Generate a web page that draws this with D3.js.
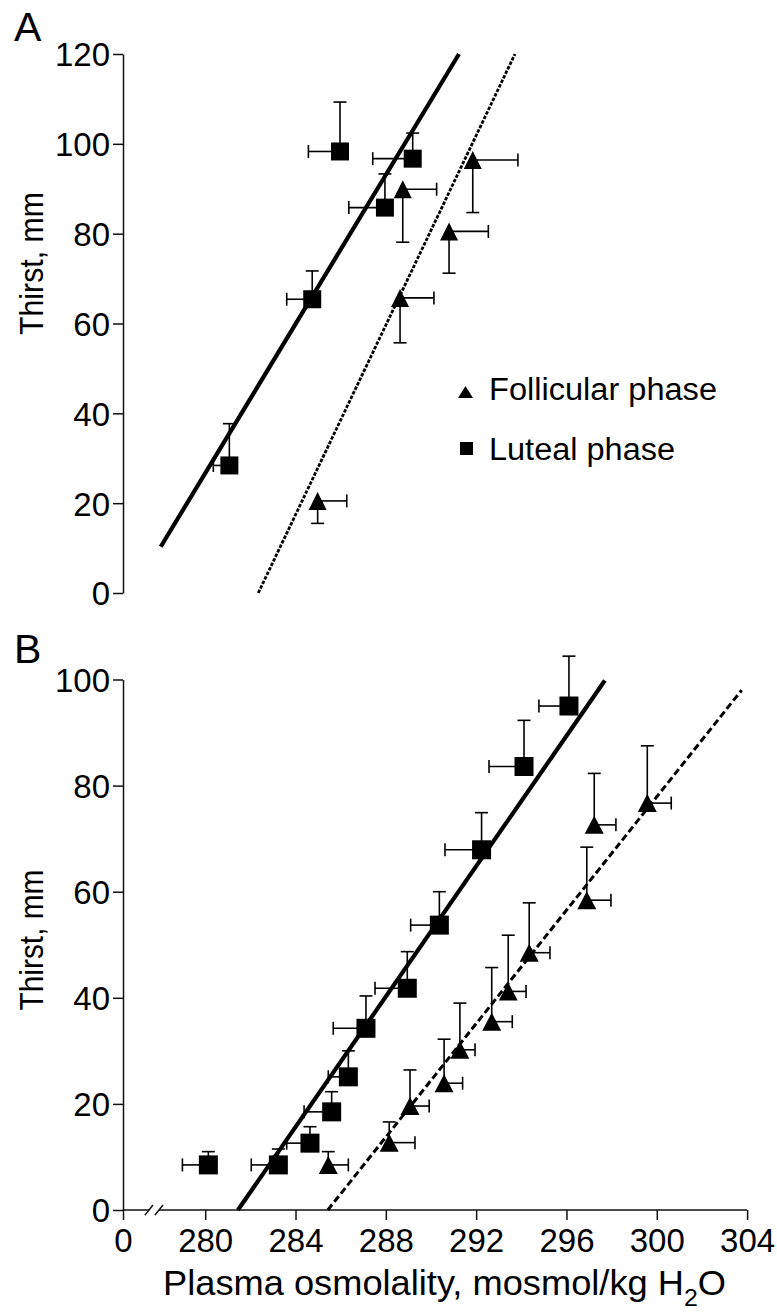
<!DOCTYPE html>
<html><head><meta charset="utf-8">
<script src="https://cdn.jsdelivr.net/npm/d3@7"></script>
<style>
html,body{margin:0;padding:0;background:#fff;}
svg text{font-family:"Liberation Sans",Arial,Helvetica,sans-serif;fill:#000;}
</style></head>
<body>
<svg id="chart" width="777" height="1314"></svg>
<script>
// ---------- DATA ----------
// Panel A
const lutealA_x    = [281.07, 284.74, 285.97, 287.96, 289.19];
const lutealA_y    = [28.4, 65.4, 98.3, 85.8, 96.7];
const lutealA_xerr = [0.71, 1.13, 1.40, 1.60, 1.77];
const lutealA_yerr = [9.3, 6.3, 11.0, 7.5, 5.7];

const follA_x    = [284.98, 288.63, 288.75, 290.80, 291.85];
const follA_y    = [20.5, 65.7, 89.9, 80.5, 96.4];
const follA_xerr = [1.29, 1.50, 1.50, 1.74, 2.00];
const follA_yerr = [5.0, 10.0, 11.8, 9.3, 11.7];

const lineA_luteal_x = [278.03, 291.24];
const lineA_luteal_y = [10.3, 120];
const lineA_foll_x   = [282.35, 293.72];
const lineA_foll_y   = [0, 120];

// Panel B
const lutealB_x    = [280.14, 283.24, 284.64, 285.60, 286.34, 287.12, 288.95, 290.37, 292.24, 294.12, 296.11];
const lutealB_y    = [8.5, 8.5, 12.6, 18.5, 25.1, 34.25, 41.8, 53.7, 67.9, 83.6, 95.0];
const lutealB_xerr = [1.15, 1.20, 1.03, 1.22, 0.89, 1.45, 1.43, 1.27, 1.62, 1.55, 1.33];
const lutealB_yerr = [2.5, 3.0, 3.1, 3.8, 4.9, 6.1, 6.9, 6.3, 7.0, 8.7, 9.4];

const follB_x    = [285.45, 288.15, 289.07, 290.58, 291.28, 292.69, 293.42, 294.35, 296.90, 297.23, 299.58];
const follB_y    = [8.5, 12.7, 19.6, 23.9, 30.2, 35.5, 41.2, 48.5, 58.4, 72.6, 76.7];
const follB_xerr = [0.89, 1.14, 0.85, 0.82, 0.67, 0.91, 0.79, 0.92, 1.07, 0.96, 1.06];
const follB_yerr = [2.5, 3.9, 6.8, 8.3, 8.8, 10.2, 10.6, 9.4, 10.0, 9.7, 10.8];

const lineB_luteal_x = [281.45, 297.70];
const lineB_luteal_y = [0, 99.8];
const lineB_foll_x   = [285.43, 303.76];
const lineB_foll_y   = [0, 98];

// Ticks
const yTicksA = [0, 20, 40, 60, 80, 100, 120];
const yTicksB = [0, 20, 40, 60, 80, 100];
const xZeroPos = 276.36;   // where the broken axis shows "0"
const xTickValues = [xZeroPos, 280, 284, 288, 292, 296, 300, 304];
const xTickLabels = ["0", "280", "284", "288", "292", "296", "300", "304"];

const legendLabels = ["Follicular phase", "Luteal phase"];

// ---------- DRAW ----------
const FONT = '"Liberation Sans",Arial,Helvetica,sans-serif';
const svg = d3.select("#chart");
const x = d3.scaleLinear().domain([280, 304]).range([205.2, 747.1]);
const yA = d3.scaleLinear().domain([0, 120]).range([593, 54]);
const yB = d3.scaleLinear().domain([0, 100]).range([1210, 679.5]);
const axisX = x(xZeroPos);

function yAxis(scale, ticks) {
  const g = svg.append("g").attr("transform", `translate(${axisX},0)`)
    .call(d3.axisLeft(scale).tickValues(ticks).tickSize(10).tickSizeOuter(0).tickPadding(3));
  g.select(".domain").attr("stroke", "#111").attr("stroke-width", 1.5);
  g.selectAll(".tick line").attr("stroke", "#111").attr("stroke-width", 1.5);
  g.selectAll(".tick text").attr("font-size", 33).attr("font-family", FONT).attr("fill", "#000")
    .attr("dy", "0.36em");
  return g;
}
yAxis(yA, yTicksA);
yAxis(yB, yTicksB);

// X axis B (with break)
const gx = svg.append("g").attr("transform", `translate(0,${yB(0)})`)
  .call(d3.axisBottom(x).tickValues(xTickValues).tickSize(10).tickPadding(9)
    .tickFormat((d, i) => xTickLabels[i]));
gx.select(".domain").remove();
gx.selectAll(".tick line").attr("stroke", "#111").attr("stroke-width", 1.5);
gx.selectAll(".tick text").attr("font-size", 33).attr("font-family", FONT).attr("fill", "#000");
const brk1 = 149, brk2 = 159;
gx.append("line").attr("x1", axisX).attr("x2", brk1).attr("y1", 0).attr("y2", 0).attr("stroke", "#111").attr("stroke-width", 1.5);
gx.append("line").attr("x1", brk2).attr("x2", x(304)).attr("y1", 0).attr("y2", 0).attr("stroke", "#111").attr("stroke-width", 1.5);
[brk1, brk2].forEach(bx => {
  gx.append("line").attr("x1", bx - 4).attr("y1", 5).attr("x2", bx + 4).attr("y2", -5)
    .attr("stroke", "#111").attr("stroke-width", 1.5);
});

// Regression lines
function regLine(xs, ys, yScale, dashed, dash, w) {
  svg.append("line")
    .attr("x1", x(xs[0])).attr("y1", yScale(ys[0]))
    .attr("x2", x(xs[1])).attr("y2", yScale(ys[1]))
    .attr("stroke", "#000")
    .attr("stroke-width", w)
    .attr("stroke-dasharray", dashed ? dash : null);
}
regLine(lineA_luteal_x, lineA_luteal_y, yA, false, null, 4.2);
regLine(lineA_foll_x, lineA_foll_y, yA, true, "3.5,1.5", 2.8);
regLine(lineB_luteal_x, lineB_luteal_y, yB, false, null, 4.2);
regLine(lineB_foll_x, lineB_foll_y, yB, true, "7,3.5", 3);

// Error bars: dirX -1 = left, +1 = right; dirY +1 = up, -1 = down
function errBars(xs, ys, xe, ye, yScale, dirX, dirY) {
  const g = svg.append("g").attr("stroke", "#000").attr("stroke-width", 1.6);
  const cap = 6.5;
  xs.forEach((xv, i) => {
    const px = x(xv), py = yScale(ys[i]);
    const ex = x(xv + dirX * xe[i]);
    const ey = yScale(ys[i] + dirY * ye[i]);
    g.append("line").attr("x1", px).attr("y1", py).attr("x2", ex).attr("y2", py);
    g.append("line").attr("x1", ex).attr("y1", py - cap).attr("x2", ex).attr("y2", py + cap);
    g.append("line").attr("x1", px).attr("y1", py).attr("x2", px).attr("y2", ey);
    g.append("line").attr("x1", px - cap).attr("y1", ey).attr("x2", px + cap).attr("y2", ey);
  });
}
errBars(lutealA_x, lutealA_y, lutealA_xerr, lutealA_yerr, yA, -1, 1);
errBars(follA_x, follA_y, follA_xerr, follA_yerr, yA, 1, -1);
errBars(lutealB_x, lutealB_y, lutealB_xerr, lutealB_yerr, yB, -1, 1);
errBars(follB_x, follB_y, follB_xerr, follB_yerr, yB, 1, 1);

function squares(xs, ys, yScale, s) {
  svg.append("g").selectAll("rect").data(xs).join("rect")
    .attr("x", d => x(d) - s / 2)
    .attr("y", (d, i) => yScale(ys[i]) - s / 2)
    .attr("width", s).attr("height", s).attr("fill", "#000");
}
function triPath(cx, cy, w, h) {
  return `M${cx},${cy - h / 2}L${cx + w / 2},${cy + h / 2}L${cx - w / 2},${cy + h / 2}Z`;
}
function triangles(xs, ys, yScale, w, h) {
  svg.append("g").selectAll("path").data(xs).join("path")
    .attr("d", (d, i) => triPath(x(d), yScale(ys[i]), w, h))
    .attr("fill", "#000");
}
squares(lutealA_x, lutealA_y, yA, 18);
triangles(follA_x, follA_y, yA, 18, 18);
squares(lutealB_x, lutealB_y, yB, 19);
triangles(follB_x, follB_y, yB, 19, 18);

// Legend
const leg = svg.append("g");
leg.append("path").attr("d", triPath(465.5, 392, 15, 12)).attr("fill", "#000");
leg.append("rect").attr("x", 460).attr("y", 442).attr("width", 13).attr("height", 13).attr("fill", "#000");
leg.append("text").attr("x", 489).attr("y", 400).attr("font-size", 31)
  .attr("textLength", 228).attr("lengthAdjust", "spacingAndGlyphs").text(legendLabels[0]);
leg.append("text").attr("x", 489).attr("y", 460).attr("font-size", 31)
  .attr("textLength", 186).attr("lengthAdjust", "spacingAndGlyphs").text(legendLabels[1]);

// Panel letters
svg.append("text").attr("x", 14).attr("y", 41).attr("font-size", 41).text("A");
svg.append("text").attr("x", 14).attr("y", 663).attr("font-size", 41).text("B");

// Y titles
svg.append("text").attr("transform", "translate(43,263.5) rotate(-90)")
  .attr("text-anchor", "middle").attr("font-size", 33)
  .attr("textLength", 143).attr("lengthAdjust", "spacingAndGlyphs").text("Thirst, mm");
svg.append("text").attr("transform", "translate(43,940) rotate(-90)")
  .attr("text-anchor", "middle").attr("font-size", 33)
  .attr("textLength", 141).attr("lengthAdjust", "spacingAndGlyphs").text("Thirst, mm");

// X title
const xt = svg.append("text").attr("x", 163).attr("y", 1295).attr("font-size", 35)
  .attr("textLength", 563).attr("lengthAdjust", "spacingAndGlyphs");
xt.append("tspan").text("Plasma osmolality, mosmol/kg H");
xt.append("tspan").attr("dy", 11).attr("font-size", 24).text("2");
xt.append("tspan").attr("dy", -11).text("O");
</script>
</body></html>
